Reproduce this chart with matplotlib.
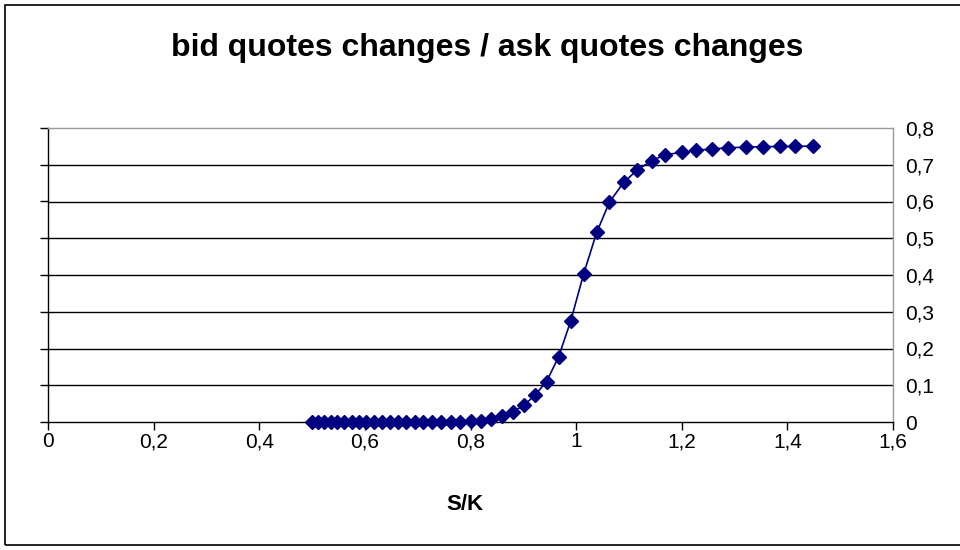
import matplotlib
matplotlib.use("Agg")
import matplotlib.pyplot as plt
from matplotlib.patches import Rectangle
from matplotlib.ticker import FuncFormatter, MultipleLocator

plt.rcParams['font.family'] = ['Liberation Sans', 'DejaVu Sans']

# S/K ratio and the bid/ask quote-change ratio
s_over_k = [0.499, 0.511, 0.523, 0.535, 0.548, 0.561, 0.575, 0.588, 0.602, 0.617,
            0.632, 0.647, 0.662, 0.678, 0.694, 0.711, 0.728, 0.745, 0.763, 0.781,
            0.800, 0.819, 0.839, 0.859, 0.880, 0.901, 0.922, 0.944, 0.967, 0.990,
            1.014, 1.039, 1.063, 1.090, 1.116, 1.143, 1.169, 1.200, 1.227, 1.257,
            1.287, 1.321, 1.353, 1.386, 1.415, 1.449]
ratio = [0.000, 0.000, 0.000, 0.000, 0.000, 0.000, 0.000, 0.000, 0.000, 0.000,
         0.000, 0.000, 0.000, 0.000, 0.000, 0.000, 0.000, 0.000, 0.000, 0.001,
         0.002, 0.004, 0.009, 0.017, 0.028, 0.045, 0.073, 0.110, 0.178, 0.276,
         0.402, 0.516, 0.598, 0.652, 0.686, 0.711, 0.727, 0.734, 0.739, 0.743,
         0.746, 0.748, 0.749, 0.750, 0.750, 0.751]

title = "bid quotes changes / ask quotes changes"
x_label = "S/K"

fig = plt.figure(figsize=(9.6, 5.5), dpi=100)
fig.patch.set_facecolor("white")

# outer chart frame
fig.patches.append(Rectangle((5 / 960, 5 / 550), 960 / 960, 540 / 550,
                             transform=fig.transFigure, fill=False,
                             edgecolor="black", linewidth=1.2, zorder=0))

ax = fig.add_axes([48 / 960, 1 - 422 / 550, (893 - 48) / 960, (422 - 128) / 550])
ax.set_xlim(0, 1.6)
ax.set_ylim(0, 0.8)

ax.xaxis.set_major_locator(MultipleLocator(0.2))
ax.yaxis.set_major_locator(MultipleLocator(0.1))

comma = FuncFormatter(lambda v, p: ("%g" % round(v, 2)).replace(".", ","))
ax.xaxis.set_major_formatter(comma)
ax.yaxis.set_major_formatter(comma)

for y in [0.1, 0.2, 0.3, 0.4, 0.5, 0.6, 0.7]:
    ax.axhline(y, color="black", linewidth=1.0, zorder=1)

ax.spines['top'].set_color("#9a9a9a")
ax.spines['right'].set_color("#9a9a9a")
ax.spines['left'].set_color("black")
ax.spines['bottom'].set_color("black")
for s in ax.spines.values():
    s.set_linewidth(1.0)

ax.tick_params(axis='y', left=True, right=False, labelleft=False, labelright=True,
               direction='out', length=6, width=1, labelsize=15, pad=3)
ax.tick_params(axis='x', bottom=True, direction='out', length=6, width=1,
               labelsize=15, pad=1.5)

ax.plot(s_over_k, ratio, color="#000080", linewidth=1.2, marker="D",
        markersize=7.5, markerfacecolor="#000080", markeredgecolor="#000080",
        zorder=3, clip_on=False)

fig.text(487 / 960, 1 - 48 / 550, title, ha="center", va="center",
         fontsize=23, fontweight="bold")
fig.text(465 / 960, 1 - 505 / 550, x_label, ha="center", va="center",
         fontsize=16, fontweight="bold")

fig.savefig("out.png", dpi=100)
